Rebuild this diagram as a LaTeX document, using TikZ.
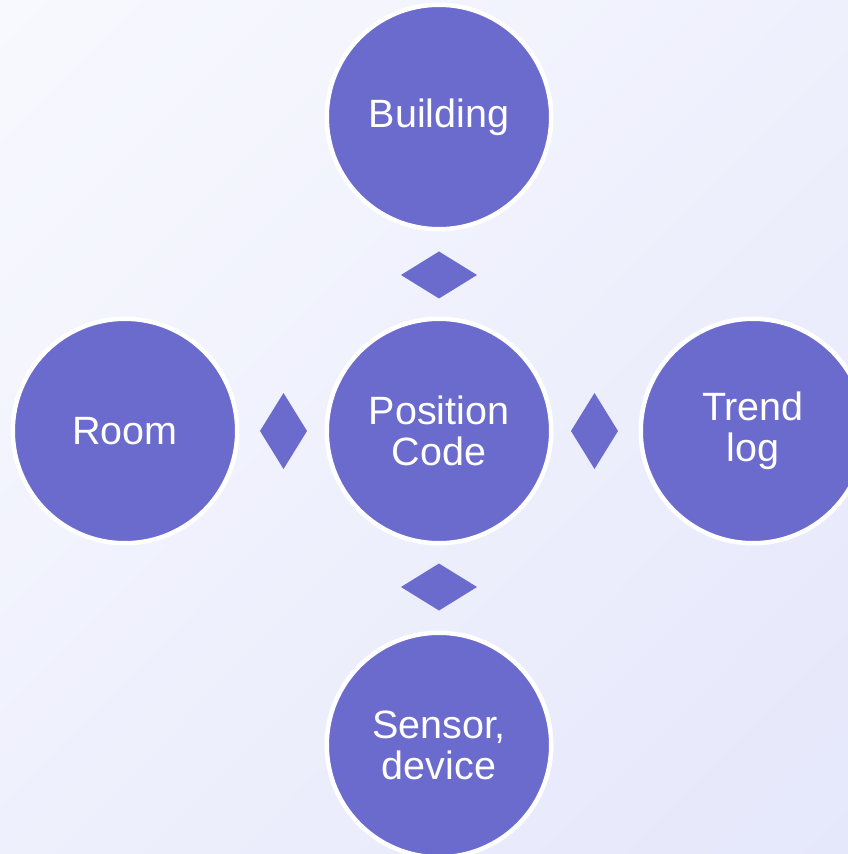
\documentclass[tikz,border=0pt]{standalone}
\usepackage{fontspec}
\setmainfont{Liberation Sans}
\usepackage{tikz}
\definecolor{TopicFill}{HTML}{6B6BCD}
\definecolor{BgLight}{HTML}{F8F9FE}
\definecolor{BgDark}{HTML}{E5E7FB}
\usetikzlibrary{shadings}
\usetikzlibrary{shapes.geometric}
\usetikzlibrary{positioning}

\begin{document}
\begin{tikzpicture}[font=\fontsize{39.5}{41}\selectfont,
    node distance=85pt and 85pt,
    topic/.style={shape=circle,
      minimum size=224.5pt,
      inner sep=0pt,
      fill=TopicFill,
      draw=white,
      line width=4.5pt,
      text=white,
      align=center},
    linkh/.style={shape=diamond,
      minimum width=76pt,
      minimum height=47pt,
      inner sep=0pt,
      outer sep=0pt,
      fill=TopicFill},
    linkv/.style={linkh,
      minimum width=47pt,
      minimum height=76pt}]

    % page and backdrop
    \path [use as bounding box] (-439pt,431pt) rectangle (409pt,-423pt);
    \clip (-439pt,431pt) rectangle (409pt,-423pt);
    \shade [upper left=BgLight, lower right=BgDark,
      upper right=BgLight!50!BgDark, lower left=BgLight!50!BgDark]
      (-439pt,431pt) rectangle (409pt,-423pt);

    \node[name=poscode, topic] at (0,0) {Position\\Code};

    \node[name=building, topic, above=of poscode] {Building};
    \node[name=sensor, topic, below=of poscode] {Sensor,\\device};
    \node[name=room, topic, left=of poscode] {Room};
    \node[name=trendlog, topic, right=of poscode] {Trend\\log};

    \node[name=linkup, linkh, below=20pt of building] {};
    \node[name=linkdown, linkh, above=20pt of sensor] {};
    \node[name=linkleft, linkv, right=20.5pt of room] {};
    \node[name=linkright, linkv, left=20.5pt of trendlog] {};
  \end{tikzpicture}
\end{document}
